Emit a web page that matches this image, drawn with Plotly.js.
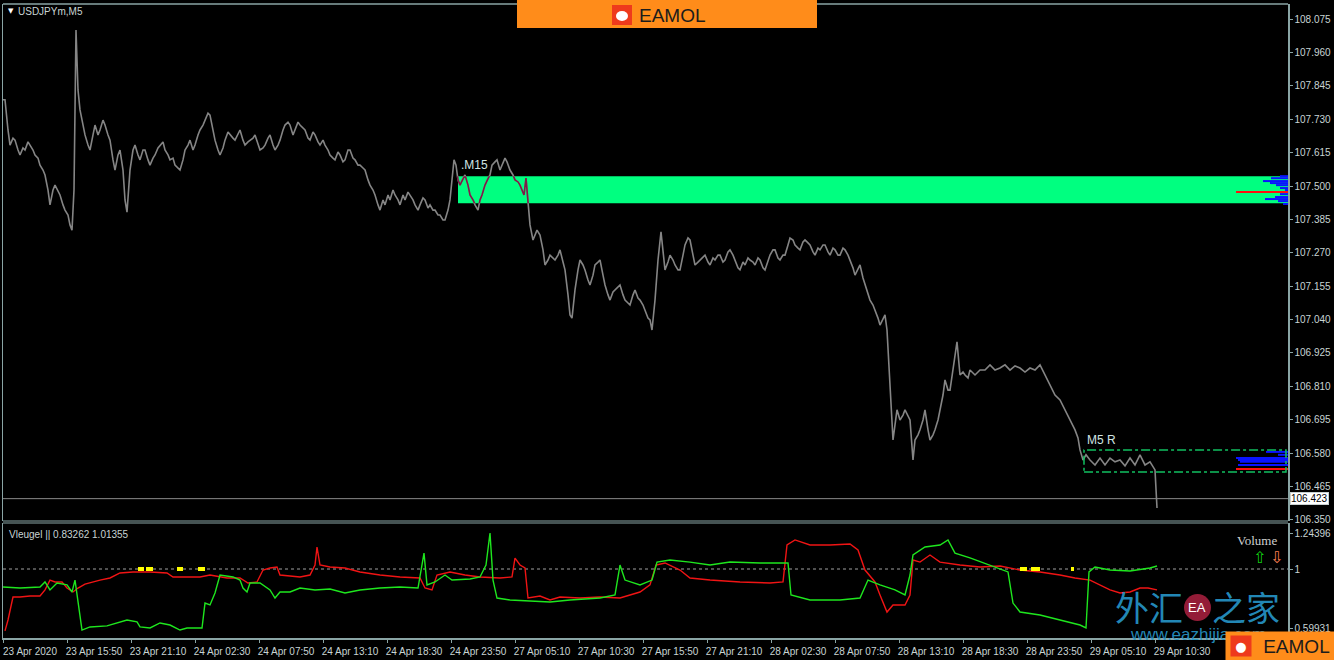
<!DOCTYPE html>
<html><head><meta charset="utf-8">
<script src="https://cdn.plot.ly/plotly-3.0.1.min.js"></script>
<style>html,body{margin:0;padding:0;background:#000;}#chart{width:1334px;height:660px;}</style>
</head><body><div id="chart"></div>
<script>
// ---------- DATA ----------
const timeTickIndex = [0,64,128,192,256,320,384,448,512,576,640,704,768,832,896,960,1024,1088,1152];
const timeTickLabels = ["23 Apr 2020","23 Apr 15:50","23 Apr 21:10","24 Apr 02:30","24 Apr 07:50","24 Apr 13:10","24 Apr 18:30","24 Apr 23:50","27 Apr 05:10","27 Apr 10:30","27 Apr 15:50","27 Apr 21:10","28 Apr 02:30","28 Apr 07:50","28 Apr 13:10","28 Apr 18:30","28 Apr 23:50","29 Apr 05:10","29 Apr 10:30"];
const priceTicks = [106.350,106.465,106.580,106.695,106.810,106.925,107.040,107.155,107.270,107.385,107.500,107.615,107.730,107.845,107.960,108.075];

const barIndex = [
0,2,5,7,10,12,15,17,20,22,
25,27,30,32,35,37,40,42,45,47,
50,52,55,57,60,62,65,67,69,70,
71,73,75,77,80,82,85,87,90,92,
95,97,100,102,105,107,110,112,115,117,
120,122,124,127,130,132,135,137,140,142,
145,147,150,152,155,157,160,162,165,167,
170,172,175,177,180,182,185,187,190,192,
195,197,200,202,205,207,210,212,215,217,
220,222,225,227,230,232,235,237,240,242,
245,247,250,252,255,257,260,262,265,267,
270,272,275,277,280,282,285,287,290,292,
295,297,300,302,305,307,310,312,315,317,
320,322,325,327,330,332,335,337,340,342,
345,347,350,352,355,357,360,362,365,367,
370,372,375,377,380,382,385,387,390,392,
395,397,400,402,405,407,410,412,415,417,
420,422,425,427,430,432,435,437,440,442,
445,447,449,451,453,455,457,459,462,465,
467,470,472,475,477,479,482,484,487,489,
492,494,497,499,502,504,507,510,512,515,
517,519,521,523,525,527,530,532,534,537,
540,542,545,547,550,552,555,557,560,562,
565,567,569,572,575,577,580,582,585,587,
590,592,595,597,600,602,605,607,610,612,
615,617,620,622,625,627,630,632,635,637,
640,642,645,647,649,652,655,658,660,662,
665,667,670,672,675,677,680,682,685,687,
690,692,695,697,700,702,705,707,710,712,
715,717,720,722,725,727,730,732,735,737,
740,742,745,747,750,752,755,757,760,762,
765,767,770,772,775,777,780,782,785,787,
790,792,795,797,800,802,805,807,810,812,
815,817,820,822,825,827,830,832,835,837,
840,842,845,847,850,852,855,857,860,862,
865,867,870,872,875,877,880,882,884,886,
888,890,892,894,897,900,902,905,907,910,
912,915,917,920,922,925,927,930,932,935,
937,940,942,945,947,950,952,954,957,960,
962,965,967,972,977,982,987,992,997,1002,
1007,1012,1017,1022,1027,1032,1037,1042,1047,1052,
1057,1062,1067,1072,1075,1077,1080,1083,1087,1092,
1097,1102,1107,1112,1117,1122,1127,1132,1137,1142,
1147,1152,1154];
const closePrice = [
107.797,107.797,107.693,107.641,107.665,107.658,107.624,107.607,107.631,107.624,
107.652,107.641,107.624,107.607,107.596,107.572,107.555,107.538,107.486,107.435,
107.486,107.503,107.479,107.469,107.435,107.417,107.400,107.366,107.348,107.435,
107.486,108.037,107.831,107.762,107.710,107.676,107.641,107.624,107.676,107.710,
107.676,107.693,107.727,107.710,107.676,107.658,107.590,107.555,107.607,107.624,
107.555,107.452,107.410,107.555,107.624,107.641,107.607,107.590,107.624,107.624,
107.590,107.572,107.596,107.607,107.631,107.641,107.652,107.624,107.607,107.590,
107.596,107.572,107.562,107.555,107.590,107.624,107.641,107.658,107.624,107.641,
107.676,107.693,107.710,107.727,107.751,107.744,107.693,107.658,107.624,107.607,
107.631,107.658,107.686,107.676,107.665,107.658,107.676,107.693,107.658,107.641,
107.652,107.658,107.665,107.676,107.641,107.624,107.631,107.641,107.665,107.676,
107.641,107.624,107.641,107.658,107.693,107.710,107.720,107.710,107.676,107.693,
107.720,107.710,107.700,107.693,107.665,107.658,107.686,107.676,107.652,107.641,
107.658,107.641,107.624,107.607,107.596,107.590,107.617,107.607,107.583,107.590,
107.624,107.624,107.596,107.590,107.572,107.572,107.562,107.555,107.521,107.503,
107.486,107.469,107.435,107.417,107.452,107.435,107.469,107.452,107.486,107.469,
107.452,107.435,107.469,107.452,107.479,107.469,107.452,107.435,107.417,107.435,
107.459,107.452,107.424,107.435,107.417,107.417,107.400,107.400,107.383,107.383,
107.417,107.452,107.521,107.590,107.572,107.521,107.503,107.521,107.538,107.503,
107.469,107.452,107.435,107.417,107.452,107.469,107.503,107.521,107.538,107.572,
107.583,107.590,107.555,107.572,107.596,107.583,107.555,107.538,107.521,107.514,
107.503,107.486,107.469,107.527,107.452,107.366,107.314,107.331,107.348,107.331,
107.280,107.228,107.245,107.262,107.252,107.245,107.262,107.280,107.238,107.211,
107.125,107.056,107.045,107.142,107.211,107.245,107.228,107.211,107.176,107.159,
107.193,107.228,107.238,107.245,107.193,107.159,107.125,107.107,107.135,107.142,
107.149,107.159,107.125,107.107,107.097,107.090,107.125,107.142,107.114,107.107,
107.090,107.073,107.045,107.039,107.004,107.107,107.245,107.342,107.280,107.211,
107.238,107.262,107.245,107.228,107.211,107.211,107.262,107.297,107.321,107.314,
107.262,107.228,107.238,107.245,107.252,107.262,107.238,107.228,107.252,107.245,
107.262,107.262,107.238,107.245,107.273,107.280,107.262,107.245,107.218,107.211,
107.238,107.228,107.252,107.245,107.238,107.228,107.252,107.245,107.218,107.211,
107.245,107.262,107.280,107.280,107.252,107.245,107.262,107.262,107.297,107.321,
107.314,107.297,107.286,107.280,107.307,107.314,107.304,107.297,107.273,107.262,
107.286,107.280,107.297,107.297,107.273,107.262,107.286,107.280,107.262,107.262,
107.286,107.280,107.262,107.245,107.218,107.193,107.218,107.228,107.183,107.159,
107.125,107.107,107.090,107.073,107.045,107.021,107.039,107.056,107.004,106.866,
106.763,106.625,106.677,106.729,106.694,106.711,106.729,106.711,106.694,106.556,
106.625,106.643,106.660,106.694,106.729,106.660,106.625,106.643,106.660,106.694,
106.729,106.780,106.832,106.797,106.797,106.866,106.901,106.963,106.849,106.859,
106.849,106.839,106.866,106.849,106.866,106.866,106.884,106.866,106.873,106.884,
106.866,106.880,106.873,106.859,106.873,106.866,106.884,106.849,106.815,106.780,
106.763,106.729,106.694,106.660,106.632,106.591,106.556,106.574,106.556,106.539,
106.563,106.539,106.563,106.550,106.556,106.536,106.563,106.539,106.574,106.539,
106.550,106.522,106.391];
const bidPrice = 106.423;

// Supply / demand zones
const m15ZoneStart = 455, m15ZoneLow = 107.441, m15ZoneHigh = 107.534;
const m5ZoneStart = 1081, m5ZoneLow = 106.515, m5ZoneHigh = 106.591;
const chartRightIndex = 1285;

// Volume profiles (level price, length in bars)
const m15ProfilePrice = [107.534,107.527,107.517,107.510,107.503,107.493,107.486,107.472,107.462,107.455,107.448,107.438];
const m15ProfileLen   = [8,17,25,18,12,8,3,8,13,23,10,5];
const m15PocPrice = 107.479, m15PocLen = 52;
const m5ProfilePrice = [106.584,106.574,106.563,106.556,106.550,106.539];
const m5ProfileLen   = [22,10,52,50,48,50];
const m5PocPrice = 106.525, m5PocLen = 52;

// Vleugel indicator
const redIndex = [2,5,10,17,27,37,42,47,52,59,64,70,75,82,97,107,117,130,147,164,170,187,197,207,217,224,237,245,254,260,267,274,277,287,297,307,312,314,317,327,342,357,377,397,417,422,429,434,447,462,477,497,509,512,517,522,525,537,547,557,577,597,617,637,647,653,662,677,687,707,737,767,780,784,792,807,827,847,855,862,872,877,884,890,902,907,910,917,927,937,957,977,997,1017,1037,1057,1072,1087,1097,1107,1117,1127,1137,1145,1154];
const redValue = [0.580,0.654,0.810,0.810,0.817,0.817,0.858,0.925,0.912,0.912,0.871,0.844,0.871,0.898,0.925,0.939,0.973,0.980,0.980,0.973,0.946,0.946,0.946,0.959,0.946,0.939,0.939,0.905,0.912,0.993,1.007,1.014,0.959,0.953,0.946,0.959,1.027,1.149,1.027,1.014,1.007,0.980,0.959,0.946,0.939,0.871,0.858,0.959,0.980,0.959,0.946,0.939,0.946,1.074,1.027,1.007,0.803,0.817,0.790,0.810,0.803,0.810,0.803,0.844,0.892,1.027,1.041,0.993,0.939,0.925,0.912,0.905,0.912,1.163,1.197,1.163,1.163,1.170,1.129,0.993,0.912,0.824,0.708,0.756,0.756,0.824,1.061,1.047,1.095,1.047,1.027,1.014,1.020,0.993,0.980,0.959,0.939,0.925,0.892,0.858,0.837,0.844,0.871,0.871,0.858];
const greenIndex = [0,17,37,42,47,54,64,69,72,75,79,87,104,124,134,137,147,157,167,177,184,199,202,207,212,217,230,237,240,244,247,257,267,272,277,287,297,312,327,342,357,377,397,415,418,421,424,432,442,449,467,477,483,487,490,494,507,527,547,567,597,612,617,622,637,649,654,667,687,707,727,757,785,788,807,837,857,865,877,892,902,907,910,922,937,945,952,967,987,1005,1010,1017,1037,1057,1077,1083,1086,1092,1107,1127,1142,1147,1154];
const greenValue = [0.878,0.871,0.878,0.912,0.858,0.905,0.892,0.844,0.925,0.769,0.586,0.607,0.614,0.654,0.641,0.607,0.600,0.634,0.620,0.586,0.600,0.600,0.769,0.756,0.837,0.959,0.946,0.925,0.871,0.844,0.905,0.905,0.858,0.803,0.844,0.844,0.871,0.858,0.864,0.837,0.858,0.871,0.878,0.871,0.993,1.108,0.892,0.912,0.959,0.925,0.932,0.946,1.027,1.244,0.925,0.803,0.790,0.783,0.776,0.790,0.803,0.824,1.027,0.925,0.892,0.925,1.047,1.061,1.047,1.027,1.047,1.041,1.041,0.824,0.790,0.790,0.803,0.925,0.892,0.858,0.824,0.959,1.095,1.149,1.163,1.197,1.108,1.075,1.027,0.980,0.769,0.708,0.688,0.654,0.620,0.600,0.980,1.014,0.993,0.986,1.000,1.007,1.020];
const signalStart = [135,143,174,195,1017,1028,1068];
const signalEnd   = [141,150,180,202,1024,1037,1071];
const signalLevel = 1.0;
const indTicks = [0.59931,1,1.24396];
const indTickText = ["0.59931","1","1.24396"];

// ---------- LAYOUT HELPERS ----------
const W=1334,H=660,ML=3,MR=46,MT=4,MB=22;
const plotW=W-ML-MR, plotH=H-MT-MB;
const px=(x)=>(x-ML)/plotW;
const py=(y)=>(H-MB-y)/plotH;
const mainRange=[106.346,108.127], indRange=[0.532,1.312];
const mainDom=[py(521),1], indDom=[0,py(523)];
const mainFrac=(p)=>mainDom[0]+(p-mainRange[0])/(mainRange[1]-mainRange[0])*(mainDom[1]-mainDom[0]);

const FRAME='#8aa5a5', TXT='#c8d4d4', FONT='Liberation Sans, Arial, sans-serif';
const WM='rgba(38,150,200,0.92)';

function profileTrace(prices,lens,color){
  const xs=[],ys=[];
  prices.forEach((p,i)=>{xs.push(chartRightIndex-lens[i],chartRightIndex,null);ys.push(p,p,null);});
  return {x:xs,y:ys,mode:'lines',line:{color:color,width:2},xaxis:'x',yaxis:'y',hoverinfo:'skip'};
}
const zoneX=[],zoneY=[];
barIndex.forEach((b,i)=>{ if(b>=m15ZoneStart-2 && b<=530){zoneX.push(b);zoneY.push(closePrice[i]);} });
const sigX=[],sigY=[];
signalStart.forEach((s,i)=>{sigX.push(s,signalEnd[i],null);sigY.push(signalLevel,signalLevel,null);});

const traces=[
  {x:barIndex,y:closePrice,mode:'lines',line:{color:'#858585',width:1.6},xaxis:'x',yaxis:'y'},
  {x:zoneX,y:zoneY,mode:'lines',line:{color:'#7a1e48',width:1.6},xaxis:'x',yaxis:'y3'},
  profileTrace(m15ProfilePrice,m15ProfileLen,'#0a14ff'),
  profileTrace([m15PocPrice],[m15PocLen],'#ff1010'),
  profileTrace(m5ProfilePrice,m5ProfileLen,'#0a14ff'),
  profileTrace([m5PocPrice],[m5PocLen],'#ff1010'),
  {x:redIndex,y:redValue,mode:'lines',line:{color:'#f01414',width:1.4},xaxis:'x',yaxis:'y2'},
  {x:greenIndex,y:greenValue,mode:'lines',line:{color:'#1ee61e',width:1.4},xaxis:'x',yaxis:'y2'},
  {x:sigX,y:sigY,mode:'lines',line:{color:'#ffff00',width:4},xaxis:'x',yaxis:'y2'}
];

const ann=(x,y,text,o)=>Object.assign({xref:'paper',yref:'paper',x:px(x),y:py(y),text:text,showarrow:false,xanchor:'left',yanchor:'middle',font:{family:FONT,size:10,color:TXT}},o||{});

const annotations=[
  ann(6,11,'▼',{font:{family:'DejaVu Sans',size:7,color:'#ffffff'}}),
  ann(16,11,'USDJPYm,M5'),
  ann(7,534,'Vleugel || 0.83262 1.01355'),
  ann(459,165,'.M15',{font:{family:FONT,size:12,color:'#d0e4e4'}}),
  ann(1085,440,'M5 R',{font:{family:FONT,size:12,color:'#d0e4e4'}}),
  ann(1290,498,'106.423',{bgcolor:'#ffffff',bordercolor:'#c8d0d0',borderwidth:1,borderpad:0,font:{family:FONT,size:10,color:'#000000'}}),
  ann(1257,540,'Volume',{xanchor:'center',font:{family:'Liberation Serif, serif',size:13,color:'#d0d0d0'}}),
  ann(1259,557,'⇧',{xanchor:'center',font:{family:'DejaVu Sans',size:16,color:'#10d010'}}),
  ann(1276,557,'⇩',{xanchor:'center',font:{family:'DejaVu Sans',size:16,color:'#ff7f50'}}),
  // watermarks
  ann(1149,606,'外汇',{xanchor:'center',font:{family:'Noto Sans CJK SC',size:34,color:WM}}),
  ann(1197,607,'EA',{xanchor:'center',font:{family:FONT,size:13,color:'#ffffff'}}),
  ann(1246,606,'之家',{xanchor:'center',font:{family:'Noto Sans CJK SC',size:34,color:WM}}),
  ann(1198,634,'www.eazhijia.com',{xanchor:'center',font:{family:FONT,size:17,color:WM}}),
  ann(672,15,'EAMOL',{xanchor:'center',font:{family:FONT,size:19,color:'#1c1c1c'}}),
  // bottom-right banner on top of watermark
  ann(1225,646,'EAMOL&nbsp;',{bgcolor:'#ff8c1a',width:109,height:28,borderpad:0,align:'right',font:{family:FONT,size:19,color:'#1c1c1c'}}),
  ann(1230,646,'●',{bgcolor:'#ee3a1c',width:20,height:20,borderpad:0,font:{family:'DejaVu Sans',size:13,color:'#ffffff'}})
];

const shapes=[
  {type:'rect',xref:'x',yref:'y',x0:m15ZoneStart,x1:chartRightIndex,y0:m15ZoneLow,y1:m15ZoneHigh,fillcolor:'#00ff80',line:{width:0},layer:'below'},
  {type:'rect',xref:'x',yref:'y',x0:m5ZoneStart,x1:chartRightIndex-2,y0:m5ZoneLow,y1:m5ZoneHigh,line:{color:'#10c060',width:1.5,dash:'dashdot'},layer:'above'},
  {type:'line',xref:'paper',yref:'y',x0:0,x1:1,y0:bidPrice,y1:bidPrice,line:{color:'#8a8a8a',width:1},layer:'below'},
  {type:'line',xref:'paper',yref:'y2',x0:0,x1:1,y0:1,y1:1,line:{color:'#a0a0a0',width:1,dash:'dot'},layer:'below'},
  {type:'line',xref:'paper',yref:'paper',x0:0,x1:1,y0:1,y1:1,line:{color:FRAME,width:1.5}},
  {type:'line',xref:'paper',yref:'paper',x0:0,x1:1,y0:mainDom[0],y1:mainDom[0],line:{color:FRAME,width:1.2}},
  {type:'line',xref:'paper',yref:'paper',x0:0,x1:1,y0:indDom[1],y1:indDom[1],line:{color:FRAME,width:1.2}},
  {type:'rect',xref:'paper',yref:'paper',x0:px(517),x1:px(817),y0:py(28),y1:py(-2),fillcolor:'#ff8c1a',line:{width:0},layer:'above'},
  {type:'rect',xref:'paper',yref:'paper',x0:px(612),x1:px(632),y0:py(25),y1:py(5),fillcolor:'#ee3a1c',line:{width:0},layer:'above'},
  {type:'circle',xref:'paper',yref:'paper',x0:px(616),x1:px(628),y0:py(21),y1:py(11),fillcolor:'#ffffff',line:{width:0},layer:'above'},
  {type:'circle',xref:'paper',yref:'paper',x0:px(1184),x1:px(1211),y0:py(621),y1:py(594),fillcolor:'rgba(160,30,60,0.92)',line:{width:0},layer:'above'}
];

const axisCommon={showgrid:false,zeroline:false,color:TXT,linecolor:FRAME,linewidth:1.5,showline:true,ticks:'outside',ticklen:3,tickcolor:FRAME,tickfont:{family:FONT,size:10,color:TXT}};

const layout={
  width:W,height:H,margin:{l:ML,r:MR,t:MT,b:MB},
  paper_bgcolor:'#000000',plot_bgcolor:'rgba(0,0,0,0)',showlegend:false,hovermode:false,
  xaxis:Object.assign({},axisCommon,{domain:[0,1],range:[0,chartRightIndex],anchor:'y2',tickmode:'array',tickvals:timeTickIndex,ticktext:timeTickLabels,ticklabelshift:27}),
  yaxis:Object.assign({},axisCommon,{domain:mainDom,range:mainRange,side:'right',anchor:'x',mirror:true,tickmode:'array',tickvals:priceTicks,tickformat:'.3f'}),
  yaxis2:Object.assign({},axisCommon,{domain:indDom,range:indRange,side:'right',anchor:'x',mirror:true,tickmode:'array',tickvals:indTicks,ticktext:indTickText}),
  yaxis3:{domain:[mainFrac(m15ZoneLow),mainFrac(m15ZoneHigh)],range:[m15ZoneLow,m15ZoneHigh],anchor:'x',visible:false,showgrid:false,zeroline:false},
  shapes:shapes,annotations:annotations
};
Plotly.newPlot('chart',traces,layout,{displayModeBar:false,staticPlot:true});
</script></body></html>
